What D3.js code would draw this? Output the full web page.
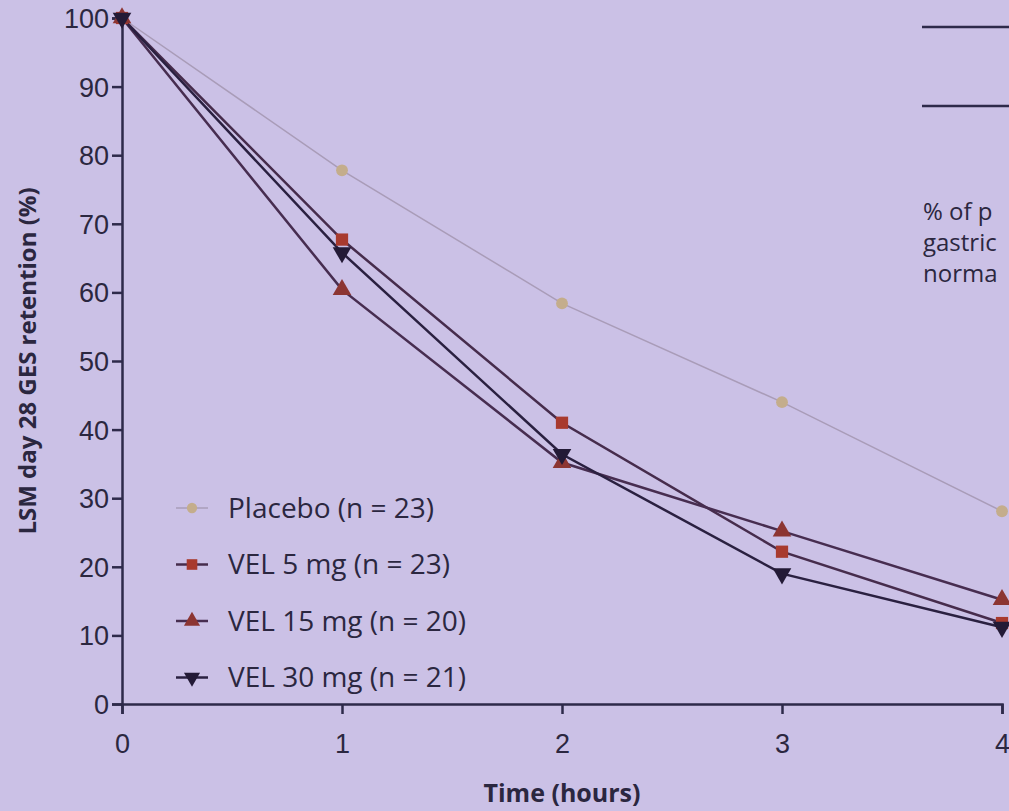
<!DOCTYPE html>
<html>
<head>
<meta charset="utf-8">
<script src="https://cdn.jsdelivr.net/npm/d3@7"></script>
<style>
  body { margin: 0; background: #cbc1e6; }
  svg { display: block; font-family: "Open Sans", "Noto Sans", sans-serif; }
</style>
</head>
<body>
<script>
const w = 1009
const h = 811

// data
const hours = [0, 1, 2, 3, 4]
const placebo = [100, 77.8, 58.4, 44.0, 28.1]
const vel5 = [100, 67.7, 41.0, 22.2, 11.8]
const vel15 = [100, 60.4, 35.2, 25.2, 15.2]
const vel30 = [100, 65.8, 36.4, 19.0, 11.2]
const seriesNames = ['Placebo (n = 23)', 'VEL 5 mg (n = 23)', 'VEL 15 mg (n = 20)', 'VEL 30 mg (n = 21)']
const yTicks = [0, 10, 20, 30, 40, 50, 60, 70, 80, 90, 100]

const series = [
  { name: seriesNames[0], values: placebo, line: '#a99cb8', lw: 1.5, fill: '#c4ad8c', shape: 'circle', size: 110 },
  { name: seriesNames[1], values: vel5, line: '#462c4c', lw: 2.5, fill: '#a83a2e', shape: 'square', size: 150 },
  { name: seriesNames[2], values: vel15, line: '#472d50', lw: 2.5, fill: '#8c3532', shape: 'triangle', size: 150 },
  { name: seriesNames[3], values: vel30, line: '#2a2040', lw: 2.5, fill: '#231a36', shape: 'down', size: 150 }
]

const x = d3.scaleLinear().domain([0, 4]).range([122, 1002])
const y = d3.scaleLinear().domain([0, 100]).range([704, 18])

const svg = d3.select('body').append('svg').attr('width', w).attr('height', h)

svg.append('rect').attr('width', w).attr('height', h).attr('fill', '#cbc1e6')

const axisColor = '#2e2a4a'
const textColor = '#2b2740'

// y axis
const yAxis = svg.append('g')
  .attr('transform', `translate(${x(0)},0)`)
  .call(d3.axisLeft(y).tickValues(yTicks).tickSize(10).tickPadding(3))
yAxis.select('.domain').attr('stroke', axisColor).attr('stroke-width', 2.5)
yAxis.selectAll('.tick line').attr('stroke', axisColor).attr('stroke-width', 2.5)
yAxis.selectAll('.tick text').attr('fill', textColor).attr('font-size', 27).attr('dy', '0.35em')

// x axis
const xAxis = svg.append('g')
  .attr('transform', `translate(0,${y(0)})`)
  .call(d3.axisBottom(x).tickValues(hours).tickSize(10).tickPadding(20).tickFormat(d3.format('d')))
xAxis.select('.domain').attr('stroke', axisColor).attr('stroke-width', 2.5)
xAxis.selectAll('.tick line').attr('stroke', axisColor).attr('stroke-width', 2.5)
xAxis.selectAll('.tick text').attr('fill', textColor).attr('font-size', 27)

// axis titles
svg.append('text')
  .attr('transform', `translate(36,${(y(0) + y(100)) / 2}) rotate(-90)`)
  .attr('text-anchor', 'middle')
  .attr('font-weight', 'bold')
  .attr('font-size', 24)
  .attr('fill', textColor)
  .text('LSM day 28 GES retention (%)')

svg.append('text')
  .attr('x', x(2))
  .attr('y', 802)
  .attr('text-anchor', 'middle')
  .attr('font-weight', 'bold')
  .attr('font-size', 25)
  .attr('fill', textColor)
  .text('Time (hours)')

const symbolOf = (shape, size) => {
  if (shape === 'circle') return d3.symbol(d3.symbolCircle, size)
  if (shape === 'square') return d3.symbol(d3.symbolSquare, size)
  return d3.symbol(d3.symbolTriangle, size)
}

const line = d3.line().x((d, i) => x(hours[i])).y(d => y(d))

series.forEach(s => {
  svg.append('path')
    .attr('d', line(s.values))
    .attr('fill', 'none')
    .attr('stroke', s.line)
    .attr('stroke-width', s.lw)
})

series.forEach(s => {
  svg.selectAll(null)
    .data(s.values)
    .enter()
    .append('path')
    .attr('d', symbolOf(s.shape, s.size)())
    .attr('transform', (d, i) => `translate(${x(hours[i])},${y(d)})${s.shape === 'down' ? ' rotate(180)' : ''}`)
    .attr('fill', s.fill)
})

// legend
const legend = svg.append('g').attr('transform', 'translate(176,508)')
series.forEach((s, i) => {
  const g = legend.append('g').attr('transform', `translate(0,${i * 56.5})`)
  g.append('line').attr('x1', 0).attr('x2', 32).attr('y1', 0).attr('y2', 0)
    .attr('stroke', s.line).attr('stroke-width', s.lw)
  g.append('path')
    .attr('d', symbolOf(s.shape, s.size * 0.75)())
    .attr('transform', `translate(16,0)${s.shape === 'down' ? ' rotate(180)' : ''}`)
    .attr('fill', s.fill)
  g.append('text')
    .attr('x', 52)
    .attr('y', 0)
    .attr('dy', '0.35em')
    .attr('font-size', 28)
    .attr('fill', textColor)
    .text(s.name)
})

// partial panel at the right edge (only the visible start of each line)
svg.append('line').attr('x1', 922).attr('x2', w).attr('y1', 27).attr('y2', 27)
  .attr('stroke', axisColor).attr('stroke-width', 2.5)
svg.append('line').attr('x1', 922).attr('x2', w).attr('y1', 106).attr('y2', 106)
  .attr('stroke', axisColor).attr('stroke-width', 2.5)
const side = ['% of p', 'gastric', 'norma']
svg.selectAll('.side')
  .data(side)
  .enter()
  .append('text')
  .attr('x', 923)
  .attr('y', (d, i) => 220 + i * 31)
  .attr('font-size', 24)
  .attr('fill', textColor)
  .text(d => d)
</script>
</body>
</html>
